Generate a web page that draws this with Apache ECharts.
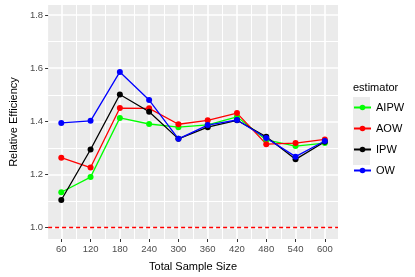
<!DOCTYPE html>
<html><head><meta charset="utf-8">
<script src="https://cdn.jsdelivr.net/npm/echarts@6/dist/echarts.min.js"></script>
<style>html,body{margin:0;padding:0;background:#fff}#c{width:415px;height:277px}</style>
</head><body><div id="c"></div>
<script>
const sampleSizes = [60,120,180,240,300,360,420,480,540,600];
const AIPW = [1.133,1.190,1.413,1.390,1.378,1.387,1.417,1.330,1.307,1.318];
const AOW  = [1.263,1.226,1.450,1.449,1.389,1.404,1.431,1.314,1.318,1.332];
const IPW  = [1.104,1.294,1.501,1.436,1.334,1.378,1.404,1.342,1.257,1.323];
const OW   = [1.394,1.402,1.586,1.480,1.334,1.386,1.405,1.337,1.267,1.326];
const xTicks = [60,120,180,240,300,360,420,480,540,600];
const xMinor = [90,150,210,270,330,390,450,510,570];
const yTicks = [1.0,1.2,1.4,1.6,1.8];
const yMinor = [1.1,1.3,1.5,1.7];
const refLine = 1.0;

const names = ['AIPW','AOW','IPW','OW'];
const vals = [AIPW, AOW, IPW, OW];
const colors = ['#00FF00','#FF0000','#000000','#0000FF'];
const font = 'Liberation Sans, Arial, sans-serif';

const series = names.map((n,i)=>({
  name:n, type:'line',
  data: sampleSizes.map((s,j)=>[s, vals[i][j]]),
  symbol:'circle', symbolSize:6, color:colors[i],
  lineStyle:{width:1.3, color:colors[i]}, itemStyle:{color:colors[i]},
  emphasis:{disabled:true}
}));
series.push({
  type:'line', data:[], z:10,
  markLine:{symbol:'none', label:{show:false}, silent:true,
    lineStyle:{color:'#FF0000', type:[4,3], width:1.3},
    data:[{yAxis:refLine}]}
});

const chart = echarts.init(document.getElementById('c'), null, {renderer:'canvas'});
chart.setOption({
  animation:false,
  backgroundColor:'#ffffff',
  title:{text:'estimator', left:353, top:82, padding:0, textStyle:{fontFamily:font, fontSize:11, fontWeight:'normal', color:'#000'}},
  legend:{data:names, orient:'vertical', left:353, top:102, padding:0, itemWidth:17, itemHeight:7, itemGap:10, itemTextGap:5,
    textStyle:{fontFamily:font, fontSize:11, color:'#000', lineHeight:7}, selectedMode:false},
  graphic:[{type:'rect', shape:{x:353, y:97, width:17, height:68}, style:{fill:'#EBEBEB'}, z:-1, silent:true}],
  grid:{left:35, right:77, top:5, bottom:34, show:true, backgroundColor:'#EBEBEB', borderWidth:0},
  xAxis:[
    {type:'value', min:33, max:627, name:'Total Sample Size', nameLocation:'middle', nameGap:22,
     nameTextStyle:{fontFamily:font, fontSize:11, color:'#000'},
     axisLine:{show:false},
     axisTick:{show:true, length:3, lineStyle:{color:'#333', width:1}, customValues:xTicks},
     axisLabel:{customValues:xTicks, fontFamily:font, fontSize:9.5, color:'#4D4D4D', margin:5},
     splitLine:{show:true, lineStyle:{color:'#FFFFFF', width:1.6}}},
    {type:'value', min:33, max:627,
     axisLine:{show:false}, axisLabel:{show:false, customValues:xMinor},
     axisTick:{show:false, customValues:xMinor},
     splitLine:{show:true, lineStyle:{color:'#FFFFFF', width:1}}}
  ],
  yAxis:[
    {type:'value', min:0.957, max:1.838, name:'Relative Efficiency', nameLocation:'middle', nameGap:24,
     nameTextStyle:{fontFamily:font, fontSize:11, color:'#000'},
     axisLine:{show:false},
     axisTick:{show:true, length:3, lineStyle:{color:'#333', width:1}, customValues:yTicks},
     axisLabel:{customValues:yTicks, fontFamily:font, fontSize:9.5, color:'#4D4D4D', margin:5,
       formatter:v=>v.toFixed(1)},
     splitLine:{show:true, lineStyle:{color:'#FFFFFF', width:1.6}}},
    {type:'value', min:0.957, max:1.838,
     axisLine:{show:false}, axisLabel:{show:false, customValues:yMinor},
     axisTick:{show:false, customValues:yMinor},
     splitLine:{show:true, lineStyle:{color:'#FFFFFF', width:1}}}
  ],
  series: series
});
</script></body></html>
